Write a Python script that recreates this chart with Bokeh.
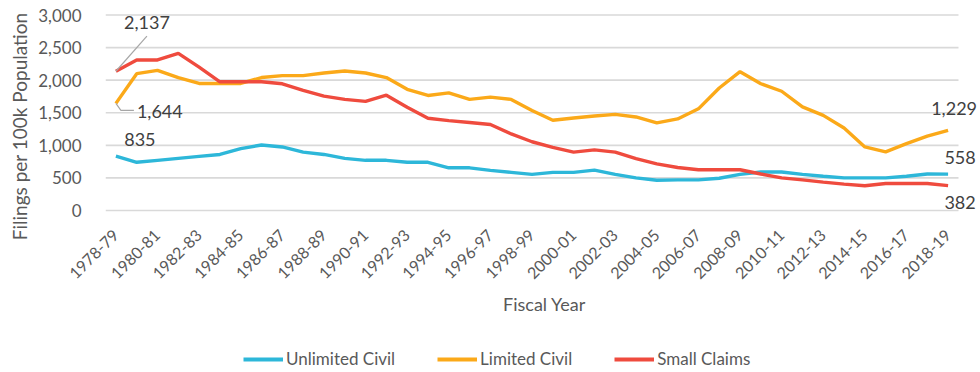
import math
from bokeh.plotting import figure
from bokeh.layouts import column
from bokeh.models import (Range1d, FixedTicker, NumeralTickFormatter, Legend, LegendItem, Label, Title)
from bokeh.embed import file_html
from bokeh.resources import INLINE

years = ["1978-79","1979-80","1980-81","1981-82","1982-83","1983-84","1984-85","1985-86",
         "1986-87","1987-88","1988-89","1989-90","1990-91","1991-92","1992-93","1993-94",
         "1994-95","1995-96","1996-97","1997-98","1998-99","1999-00","2000-01","2001-02",
         "2002-03","2003-04","2004-05","2005-06","2006-07","2007-08","2008-09","2009-10",
         "2010-11","2011-12","2012-13","2013-14","2014-15","2015-16","2016-17","2017-18","2018-19"]
year_labels = ["1978-79","1980-81","1982-83","1984-85","1986-87","1988-89","1990-91","1992-93",
               "1994-95","1996-97","1998-99","2000-01","2002-03","2004-05","2006-07","2008-09",
               "2010-11","2012-13","2014-15","2016-17","2018-19"]
y_ticks = [0, 500, 1000, 1500, 2000, 2500, 3000]

unlimited_civil = [835, 740, 770, 800, 830, 860, 950, 1005, 975, 895, 860, 800, 770, 770, 740, 740,
                   655, 655, 615, 585, 555, 585, 585, 620, 555, 500, 465, 470, 470, 495, 555, 590,
                   590, 555, 525, 500, 500, 500, 525, 560, 558]
limited_civil = [1644, 2100, 2150, 2040, 1950, 1950, 1950, 2040, 2070, 2070, 2110, 2140, 2110, 2040,
                 1860, 1765, 1805, 1705, 1740, 1705, 1535, 1385, 1420, 1450, 1475, 1435, 1345, 1405,
                 1560, 1880, 2130, 1945, 1830, 1590, 1460, 1265, 975, 900, 1025, 1140, 1229]
small_claims = [2137, 2310, 2310, 2410, 2200, 1975, 1975, 1975, 1945, 1845, 1755, 1705, 1675, 1770,
                1585, 1415, 1380, 1350, 1320, 1175, 1055, 970, 895, 930, 895, 795, 715, 660, 625,
                625, 625, 560, 500, 470, 435, 405, 380, 415, 415, 415, 382]

series_names = ["Unlimited Civil", "Limited Civil", "Small Claims"]
series_values = [unlimited_civil, limited_civil, small_claims]
colors = ["#2DB7D9", "#FBA919", "#EF4B3E"]

FONT = "Lato"
TXT = "#595959"

xs = list(range(len(years)))
CAT_W = 20.8  # px per category
x_end = len(years) - 0.5 + 25 / CAT_W   # room at the right for end labels

p = figure(frame_width=878, frame_height=200, output_backend="svg", toolbar_location=None,
           x_range=Range1d(-0.5, x_end), y_range=Range1d(-30.8, 3038.5),
           min_border_left=102, min_border_right=0, min_border_top=12, min_border_bottom=118)
p.outline_line_color = None
p.background_fill_color = "white"
p.border_fill_color = "white"

# horizontal gridlines over the category span only
p.segment(x0=[-0.5] * len(y_ticks), x1=[len(years) - 0.5] * len(y_ticks), y0=y_ticks, y1=y_ticks,
          line_color="#D9D9D9", line_width=1.6)

for vals, c in zip(series_values, colors):
    p.line(xs, vals, line_color=c, line_width=3.4)

# axes
p.xaxis.ticker = FixedTicker(ticks=[years.index(y) for y in year_labels])
p.xaxis.major_label_overrides = {years.index(y): y for y in year_labels}
p.xaxis.major_label_orientation = math.pi / 4
p.yaxis.ticker = FixedTicker(ticks=y_ticks)
p.yaxis.formatter = NumeralTickFormatter(format="0,0")
for ax in (p.xaxis, p.yaxis):
    ax.axis_line_color = None
    ax.major_tick_line_color = None
    ax.minor_tick_line_color = None
    ax.major_label_text_font = FONT
    ax.major_label_text_color = TXT
    ax.axis_label_text_font = FONT
    ax.axis_label_text_color = TXT
    ax.axis_label_text_font_style = "normal"
p.xaxis.axis_label_text_font_size = "18px"
p.xaxis.major_label_text_font_size = "16px"
p.yaxis.major_label_text_font_size = "17px"
p.xaxis.major_label_standoff = 14
p.yaxis.major_label_standoff = 18
p.xaxis.axis_label = "Fiscal Year"
p.xaxis.axis_label_standoff = 6

p.add_layout(Title(text="Filings per 100k Population", align="right",
                   text_font=FONT, text_font_size="19px", text_font_style="normal",
                   text_color=TXT), "left")

p.xgrid.grid_line_color = None
p.ygrid.grid_line_color = None

# leader lines (pixel offsets converted to data units)
PX_X = 1 / CAT_W
PX_Y = 3000 / 195
p.segment(x0=[xs[0]], y0=[small_claims[0]], x1=[xs[0] + 31 * PX_X], y1=[small_claims[0] + 35 * PX_Y],
          line_color="#A6A6A6", line_width=1.2)
p.line([xs[0], xs[0] + 5 * PX_X, xs[0] + 18 * PX_X],
       [limited_civil[0], limited_civil[0] - 7 * PX_Y, limited_civil[0] - 7 * PX_Y],
       line_color="#A6A6A6", line_width=1.2)

def lab(x, y, text, dx, dy, align="center"):
    p.add_layout(Label(x=x, y=y, text=text, x_offset=dx, y_offset=dy,
                       text_font=FONT, text_font_size="18px", text_color="#404040",
                       text_align=align, text_baseline="middle"))

lab(xs[0], small_claims[0], f"{small_claims[0]:,}", 31, 49)
lab(xs[0], limited_civil[0], f"{limited_civil[0]:,}", 21, -8, "left")
lab(xs[0], unlimited_civil[0], f"{unlimited_civil[0]:,}", 24, 17)
lab(xs[-1], limited_civil[-1], f"{limited_civil[-1]:,}", 6, 22)
lab(xs[-1], unlimited_civil[-1], f"{unlimited_civil[-1]:,}", 12, 17)
lab(xs[-1], small_claims[-1], f"{small_claims[-1]:,}", 12, -17)

# legend strip: same series drawn outside its visible range, legend only
leg = figure(width=980, height=42, output_backend="svg", toolbar_location=None,
             x_axis_type=None, y_axis_type=None, min_border=0,
             x_range=Range1d(-0.5, x_end), y_range=Range1d(-3000, -2000))
leg.outline_line_color = None
leg.xgrid.grid_line_color = None
leg.ygrid.grid_line_color = None
leg_renderers = [leg.line(xs, vals, line_color=c, line_width=3.8) for vals, c in zip(series_values, colors)]
legend = Legend(items=[LegendItem(label=n, renderers=[r]) for n, r in zip(series_names, leg_renderers)],
                orientation="horizontal", location=(138, 3),
                label_text_font=FONT, label_text_font_size="17px", label_text_color=TXT,
                glyph_width=40, glyph_height=20, label_standoff=3, spacing=42,
                border_line_color=None, background_fill_alpha=0, padding=0, margin=0)
leg.add_layout(legend, "center")

layout = column(p, leg, spacing=0)
open("out.html", "w").write(file_html(layout, INLINE))
